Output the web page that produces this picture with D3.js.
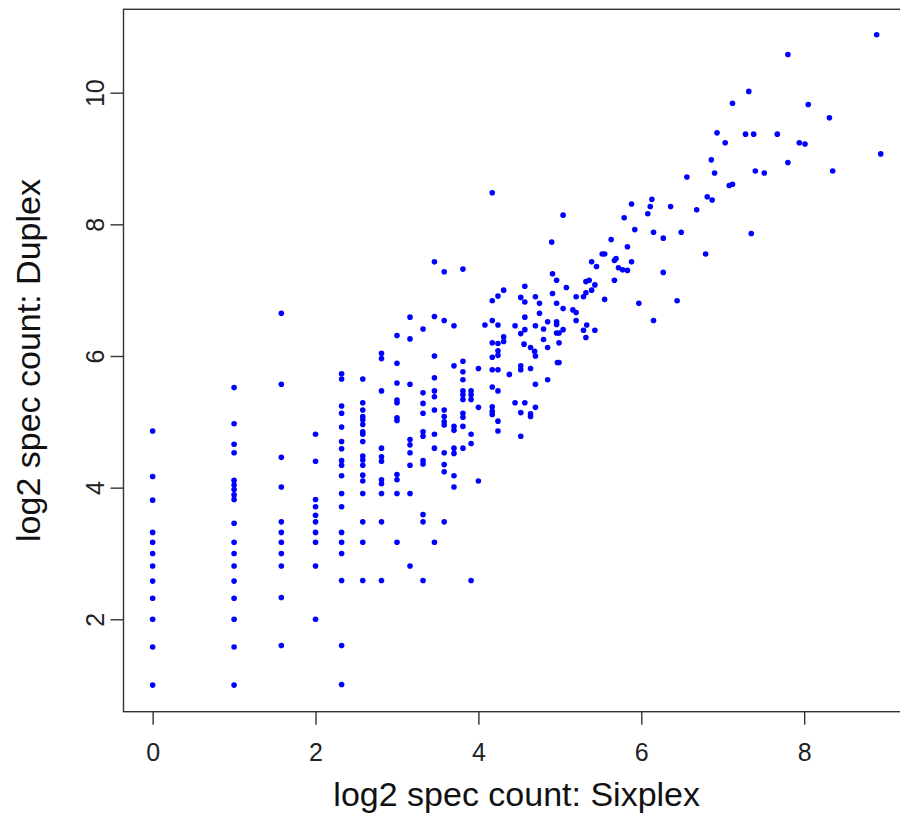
<!DOCTYPE html>
<html>
<head>
<meta charset="utf-8">
<script src="https://cdn.jsdelivr.net/npm/d3@7"></script>
<style>
  body { margin: 0; background: #fff; }
  svg { display: block; font-family: 'Liberation Sans', Arial, sans-serif; }
</style>
</head>
<body>
<svg id="chart" width="900" height="827"></svg>
<script>
// x columns at low counts (log2 of integer spec counts) and their duplex values
const columnX = [0, 1, 1.58, 2, 2.32, 2.58, 2.81, 3, 3.16, 3.32, 3.46, 3.58, 3.7, 3.81, 3.91, 4, 4.08, 4.17, 4.24, 4.31, 4.38, 4.45];
const columnY = [
  [4.86, 4.17, 3.81, 3.32, 3.17, 3.00, 2.81, 2.58, 2.32, 2.00, 1.58, 1.00],
  [5.52, 4.97, 4.66, 4.53, 4.11, 4.04, 3.97, 3.89, 3.82, 3.46, 3.17, 3.00, 2.81, 2.58, 2.32, 2.00, 1.58, 1.00],
  [6.65, 5.57, 4.46, 4.01, 3.48, 3.32, 3.17, 3.00, 2.81, 2.33, 1.60],
  [4.81, 4.40, 3.82, 3.71, 3.58, 3.48, 3.32, 3.17, 2.81, 2.00],
  [5.73, 5.65, 5.24, 5.13, 4.92, 4.70, 4.59, 4.41, 4.34, 4.18, 3.91, 3.71, 3.32, 3.17, 3.00, 2.59, 1.60, 1.01],
  [5.65, 5.29, 5.18, 5.08, 5.03, 4.96, 4.85, 4.81, 4.70, 4.48, 4.42, 4.34, 4.19, 4.10, 3.91, 3.48, 3.17, 2.59],
  [6.04, 5.96, 5.47, 4.60, 4.47, 4.40, 4.12, 4.06, 3.91, 3.48, 2.59],
  [6.31, 5.89, 5.59, 5.33, 5.29, 5.06, 5.02, 4.20, 4.12, 3.91, 3.17],
  [6.59, 6.26, 5.57, 4.73, 4.65, 4.53, 4.34, 3.91, 2.81],
  [6.41, 5.44, 5.28, 5.13, 4.85, 4.78, 4.41, 4.36, 3.59, 3.48, 2.59],
  [7.43, 6.60, 6.00, 5.67, 5.47, 5.38, 5.18, 4.81, 4.60, 3.17],
  [7.28, 6.54, 5.18, 5.08, 5.00, 4.95, 4.53, 4.35, 4.24, 3.48],
  [6.46, 5.85, 4.93, 4.87, 4.60, 4.52, 4.18, 4.01],
  [7.32, 5.92, 5.76, 5.64, 5.47, 5.41, 5.34, 5.13, 5.07, 4.93, 4.60],
  [5.47, 5.41, 5.34, 4.81, 4.67, 2.59],
  [5.81, 5.22, 4.10],
  [6.47],
  [8.48, 6.84, 6.54, 6.20, 5.98, 5.79, 5.53, 5.23, 5.16, 5.11],
  [6.91, 6.47, 6.19, 6.08, 6.01, 5.79, 5.47, 5.01, 4.86],
  [7.00, 6.29, 6.22],
  [5.72],
  [6.46, 5.29]
];

// middle cloud (sixplex ~4.5 to 6)
const midSixplex = [
  5.04, 5.88, 5.79, 5.92, 4.90, 5.63, 5.83, 5.39, 5.45, 5.52, 5.55, 5.69, 5.67, 5.88, 5.72, 5.77, 5.83, 5.67, 5.55, 5.97,
  4.91, 4.96, 5.08, 5.32, 5.36, 5.43, 5.29, 5.32, 5.39, 5.20, 4.57, 4.52, 4.57, 4.70, 4.75, 4.91, 4.96, 5.04, 5.16, 5.20,
  5.20, 5.33, 5.29, 5.43, 5.32, 4.85, 4.96, 4.96, 4.99, 5.04, 4.96, 4.99, 4.97, 4.99, 4.85, 4.70, 4.57, 4.52, 4.57, 4.70,
  4.75, 4.80, 4.85, 4.80, 4.64, 4.69, 4.70, 4.56, 4.52, 4.52, 4.64, 4.57, 4.52, 4.64, 4.64, 4.70, 4.52
];
const midDuplex = [
  8.14, 8.31, 8.10, 7.92, 7.73, 7.77, 7.66, 7.43, 7.36, 7.55, 7.55, 7.48, 7.45, 7.43, 7.34, 7.31, 7.30, 7.15, 6.86, 6.80,
  7.25, 7.15, 7.04, 7.13, 7.15, 7.08, 6.90, 6.96, 7.00, 6.90, 7.06, 6.89, 6.82, 6.90, 6.80, 6.95, 6.80, 6.72, 6.70, 6.66,
  6.54, 6.47, 6.39, 6.39, 6.28, 6.52, 6.52, 6.48, 6.35, 6.40, 6.35, 6.20, 5.90, 5.90, 5.64, 5.57, 6.59, 6.34, 6.40, 6.46,
  6.65, 6.41, 6.13, 6.25, 6.13, 6.07, 6.00, 6.18, 5.85, 5.79, 5.81, 5.29, 5.14, 5.12, 5.08, 5.22, 4.78
];

// upper tail (sixplex above 6)
const highSixplex = [
  8.89, 7.80, 7.32, 7.12, 8.05, 8.31, 6.93, 7.28, 7.38, 7.67, 7.03, 7.94, 8.01, 8.94, 6.86, 7.80, 6.90, 7.40, 7.51,
  8.35, 6.56, 7.08, 7.12, 6.81, 6.87, 6.13, 6.11, 6.08, 6.36, 6.68, 6.15, 6.27, 6.49, 7.35, 6.79, 6.27, 6.44, 6.15
];
const highDuplex = [
  10.88, 10.58, 10.02, 9.84, 9.82, 9.62, 9.39, 9.37, 9.37, 9.37, 9.24, 9.24, 9.22, 9.07, 8.98, 8.94, 8.78, 8.81, 8.78,
  8.81, 8.72, 8.59, 8.61, 8.42, 8.37, 8.38, 8.27, 8.16, 8.27, 8.22, 7.88, 7.79, 7.88, 7.86, 7.55, 7.27, 6.84, 6.54
];

const xTicks = [0, 2, 4, 6, 8];
const yTicks = [2, 4, 6, 8, 10];
const xLim = [-0.358, 9.298];
const yLim = [0.596, 11.267];

// build point list
const points = [];
columnX.forEach((cx, i) => columnY[i].forEach(v => points.push({x: cx, y: v})));
midSixplex.forEach((v, i) => points.push({x: v, y: midDuplex[i]}));
highSixplex.forEach((v, i) => points.push({x: v, y: highDuplex[i]}));

const plotLeft = 123.5, plotBottom = 711.7, plotTop = 9.3;
const pxPerX = 81.44;
const labelFont = "'Liberation Sans', Arial, sans-serif";

const svg = d3.select('#chart');
svg.append('rect').attr('width', 900).attr('height', 827).attr('fill', '#fff');

const x = d3.scaleLinear()
  .domain(xLim)
  .range([plotLeft, plotLeft + (xLim[1] - xLim[0]) * pxPerX]);

const y = d3.scaleLinear()
  .domain(yLim)
  .range([plotBottom, plotTop]);

// x axis
const gx = svg.append('g')
  .attr('transform', `translate(0,${plotBottom})`)
  .call(d3.axisBottom(x).tickValues(xTicks).tickSize(13).tickSizeOuter(0).tickPadding(18.5).tickFormat(d3.format('d')));
gx.select('.domain').remove();
gx.selectAll('line').attr('stroke', '#333').attr('stroke-width', 1.4);
gx.selectAll('text').attr('font-size', 25).attr('fill', '#222').style('font-family', labelFont);

// y axis, labels rotated like R's default
const gy = svg.append('g')
  .attr('transform', `translate(${plotLeft},0)`)
  .call(d3.axisLeft(y).tickValues(yTicks).tickSize(13).tickSizeOuter(0).tickFormat(d3.format('d')));
gy.select('.domain').remove();
gy.selectAll('line').attr('stroke', '#333').attr('stroke-width', 1.4);
gy.selectAll('text')
  .attr('x', null).attr('dy', null)
  .attr('text-anchor', 'middle')
  .attr('transform', 'translate(-19.5,0) rotate(-90)')
  .attr('font-size', 25).attr('fill', '#222')
  .style('font-family', labelFont);

// plot box
svg.append('rect')
  .attr('x', x(xLim[0])).attr('y', y(yLim[1]))
  .attr('width', x(xLim[1]) - x(xLim[0]))
  .attr('height', y(yLim[0]) - y(yLim[1]))
  .attr('fill', 'none').attr('stroke', '#333').attr('stroke-width', 1.4);

// points
svg.append('g')
  .selectAll('circle')
  .data(points)
  .enter()
  .append('circle')
  .attr('cx', d => x(d.x))
  .attr('cy', d => y(d.y))
  .attr('r', 2.8)
  .attr('fill', '#0000ff');

// axis titles
svg.append('text')
  .attr('x', (x(xLim[0]) + x(xLim[1])) / 2)
  .attr('y', 806)
  .attr('text-anchor', 'middle')
  .attr('font-size', 34)
  .attr('fill', '#111')
  .text('log2 spec count: Sixplex');

svg.append('text')
  .attr('transform', `translate(39.5,${(y(yLim[0]) + y(yLim[1])) / 2}) rotate(-90)`)
  .attr('text-anchor', 'middle')
  .attr('font-size', 34)
  .attr('fill', '#111')
  .text('log2 spec count: Duplex');
</script>
</body>
</html>
